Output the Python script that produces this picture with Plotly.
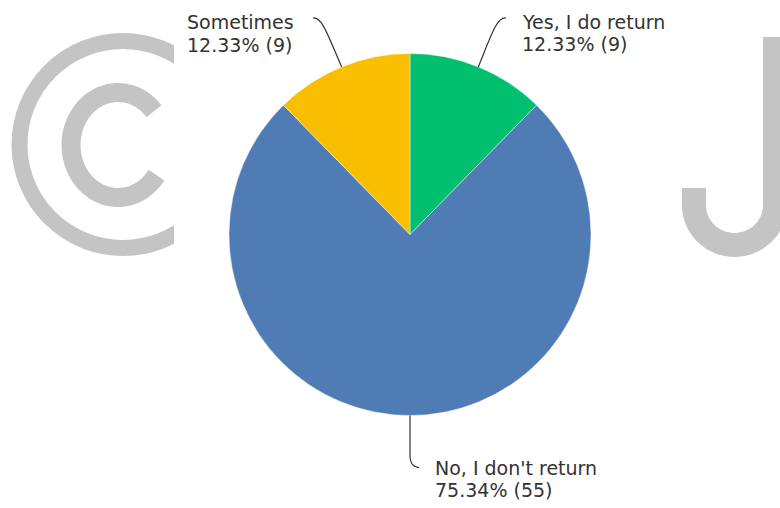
import math
import plotly.graph_objects as go

# Survey answers
labels = ["Yes, I do return", "No, I don't return", "Sometimes"]
counts = [9, 55, 9]
colors = ["#00BF6F", "#507CB6", "#F9BE00"]

W, H = 780, 508
CX, CY, R = 410, 234.5, 181
WM_GRAY = "#c4c4c4"
TEXT = "#333333"
FONT = "DejaVu Sans"


def px(x):
    return x / W


def py(y):
    return 1 - y / H


def paper_path(points):
    return "M " + " L ".join(f"{px(x):.5f},{py(y):.5f}" for x, y in points)


total = sum(counts)
shares = [c / total * 100 for c in counts]

# Mid-angle of each slice (clockwise from 12 o'clock) and its point on the rim
rim = []
acc = 0
for c in counts:
    a = math.radians((acc + c / 2) / total * 360)
    rim.append((CX + R * math.sin(a), CY - R * math.cos(a)))
    acc += c

fig = go.Figure()

fig.add_trace(go.Pie(
    labels=labels,
    values=counts,
    sort=False,
    direction="clockwise",
    rotation=0,
    marker=dict(colors=colors, line=dict(color="rgba(255,255,255,0.7)", width=0.6)),
    textinfo="none",
    hoverinfo="skip",
    showlegend=False,
    domain=dict(x=[px(CX - R), px(CX + R)], y=[py(CY + R), py(CY - R)]),
))

# Empty helper subplot (pixel units) that clips the left watermark glyph
fig.add_trace(go.Scatter(x=[None], y=[None], xaxis="x", yaxis="y",
                         showlegend=False, hoverinfo="skip"))

shapes = []

# Watermark: copyright sign on the left
ring_c, ring_r = (123, 144.5), 103.5
shapes.append(dict(type="circle", xref="x", yref="y", layer="below",
                   x0=ring_c[0] - ring_r, x1=ring_c[0] + ring_r,
                   y0=ring_c[1] - ring_r, y1=ring_c[1] + ring_r,
                   line=dict(color=WM_GRAY, width=16), fillcolor="rgba(0,0,0,0)"))
c_pts = []
for i in range(61):
    a = math.radians(40 + (325 - 40) * i / 60)
    c_pts.append((118 + 47 * math.cos(a), 145 - 52.5 * math.sin(a)))
shapes.append(dict(type="path", xref="x", yref="y", layer="below",
                   path="M " + " L ".join(f"{x:.2f},{y:.2f}" for x, y in c_pts),
                   line=dict(color=WM_GRAY, width=19)))

# Watermark: letter J on the right
j_pts = [(694, 188), (694, 205)]
for i in range(1, 41):
    a = math.radians(180 + 180 * i / 40)
    j_pts.append((734.5 + 40.5 * math.cos(a), 205 - 40 * math.sin(a)))
j_pts.append((775, 37))
shapes.append(dict(type="path", xref="paper", yref="paper", layer="below",
                   path=paper_path(j_pts), line=dict(color=WM_GRAY, width=24)))


def curve(p0, c1, c2, p1):
    f = lambda p: f"{px(p[0]):.5f},{py(p[1]):.5f}"
    return f"M {f(p0)} C {f(c1)} {f(c2)} {f(p1)}"


# Leader lines from labels to slice rims
yes_rim, no_rim, some_rim = rim
leaders = [
    curve((506, 18), (497, 17), (492, 33), yes_rim),
    curve((313, 18), (322, 17), (327, 33), some_rim),
    f"M {px(no_rim[0]):.5f},{py(no_rim[1]):.5f} L {px(no_rim[0]):.5f},{py(455):.5f} "
    f"C {px(no_rim[0]):.5f},{py(464):.5f} {px(no_rim[0] + 3):.5f},{py(467):.5f} "
    f"{px(no_rim[0] + 9):.5f},{py(467.5):.5f}",
]
for p in leaders:
    shapes.append(dict(type="path", xref="paper", yref="paper", layer="above",
                       path=p, line=dict(color=TEXT, width=1.2)))

# Label text: name on one line, share and count on the next
label_pos = {
    "Yes, I do return": (520, 21.5, 44.2),
    "No, I don't return": (433, 468.0, 489.7),
    "Sometimes": (185, 22.0, 44.7),
}
annotations = []
for lab, share, cnt in zip(labels, shares, counts):
    x, y1, y2 = label_pos[lab]
    for txt, yy in ((lab, y1), (f"{share:.2f}% ({cnt})", y2)):
        annotations.append(dict(text=txt, x=px(x), y=py(yy), xref="paper", yref="paper",
                                xanchor="left", yanchor="middle", showarrow=False,
                                align="left", font=dict(family=FONT, size=19, color=TEXT)))

fig.update_layout(
    width=W, height=H, autosize=False,
    margin=dict(l=0, r=0, t=0, b=0, pad=0),
    paper_bgcolor="white", plot_bgcolor="rgba(0,0,0,0)",
    xaxis=dict(domain=[0, 174 / W], range=[0, 174], visible=False, fixedrange=True),
    yaxis=dict(domain=[0, 1], range=[H, 0], visible=False, fixedrange=True),
    shapes=shapes,
    annotations=annotations,
    hovermode=False,
)

fig.write_html("out.html")
